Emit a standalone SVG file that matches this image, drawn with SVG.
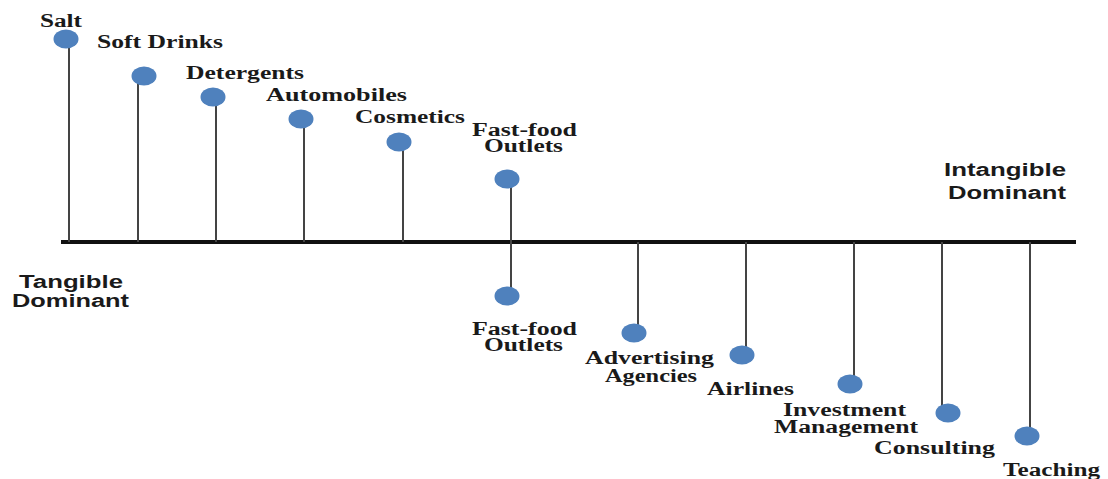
<svg xmlns="http://www.w3.org/2000/svg" width="1108" height="479" viewBox="0 0 1108 479">
<style>
.lbl{font-family:"Liberation Serif","Times New Roman",serif;font-weight:bold;font-size:18px;fill:#1a1a1a}
.end{font-family:"Liberation Sans",Arial,sans-serif;font-weight:bold;font-size:18px;fill:#1a1a1a}
.stem{stroke:#444;stroke-width:2;fill:none}
.axis{stroke:#111;stroke-width:4;fill:none}
.dot{fill:#4f81bd}
</style>
<rect width="1108" height="479" fill="#fff"/>
<g id="connectors">
<line class="axis" x1="61" y1="242" x2="1076" y2="242"/>
<line class="stem" x1="69" y1="40" x2="69" y2="242"/>
<line class="stem" x1="138" y1="77" x2="138" y2="242"/>
<line class="stem" x1="216" y1="98" x2="216" y2="242"/>
<line class="stem" x1="304" y1="120" x2="304" y2="242"/>
<line class="stem" x1="403" y1="143" x2="403" y2="242"/>
<line class="stem" x1="511" y1="180" x2="511" y2="242"/>
<line class="stem" x1="511" y1="242" x2="511" y2="295"/>
<line class="stem" x1="638" y1="242" x2="638" y2="332"/>
<line class="stem" x1="746" y1="242" x2="746" y2="354"/>
<line class="stem" x1="854" y1="242" x2="854" y2="383"/>
<line class="stem" x1="942" y1="242" x2="942" y2="412"/>
<line class="stem" x1="1030" y1="242" x2="1030" y2="435"/>
</g>
<g id="salt"><ellipse class="dot" cx="66" cy="39" rx="12.5" ry="9.5"/><text class="lbl" x="40" y="27" textLength="42" lengthAdjust="spacingAndGlyphs">Salt</text></g>
<g id="soft-drinks"><ellipse class="dot" cx="144" cy="76" rx="12.5" ry="9.5"/><text class="lbl" x="97" y="48" textLength="126" lengthAdjust="spacingAndGlyphs">Soft Drinks</text></g>
<g id="detergents"><ellipse class="dot" cx="213" cy="97" rx="12.5" ry="9.5"/><text class="lbl" x="186" y="79" textLength="118" lengthAdjust="spacingAndGlyphs">Detergents</text></g>
<g id="automobiles"><ellipse class="dot" cx="301" cy="119" rx="12.5" ry="9.5"/><text class="lbl" x="266" y="101" textLength="141" lengthAdjust="spacingAndGlyphs">Automobiles</text></g>
<g id="cosmetics"><ellipse class="dot" cx="399" cy="142" rx="12.5" ry="9.5"/><text class="lbl" x="355" y="123" textLength="110" lengthAdjust="spacingAndGlyphs">Cosmetics</text></g>
<g id="fastfood-top"><ellipse class="dot" cx="507" cy="179" rx="12.5" ry="9.5"/><text class="lbl" x="472" y="136" textLength="105" lengthAdjust="spacingAndGlyphs">Fast-food</text><text class="lbl" x="484" y="152" textLength="79" lengthAdjust="spacingAndGlyphs">Outlets</text></g>
<g id="fastfood-bottom"><ellipse class="dot" cx="507" cy="296" rx="12.5" ry="9.5"/><text class="lbl" x="472" y="335" textLength="105" lengthAdjust="spacingAndGlyphs">Fast-food</text><text class="lbl" x="484" y="351" textLength="79" lengthAdjust="spacingAndGlyphs">Outlets</text></g>
<g id="advertising"><ellipse class="dot" cx="634" cy="333" rx="12.5" ry="9.5"/><text class="lbl" x="585" y="364" textLength="129" lengthAdjust="spacingAndGlyphs">Advertising</text><text class="lbl" x="605" y="382" textLength="92" lengthAdjust="spacingAndGlyphs">Agencies</text></g>
<g id="airlines"><ellipse class="dot" cx="742" cy="355" rx="12.5" ry="9.5"/><text class="lbl" x="707" y="395" textLength="87" lengthAdjust="spacingAndGlyphs">Airlines</text></g>
<g id="investment"><ellipse class="dot" cx="850" cy="384" rx="12.5" ry="9.5"/><text class="lbl" x="783" y="416" textLength="123" lengthAdjust="spacingAndGlyphs">Investment</text><text class="lbl" x="774" y="433" textLength="144" lengthAdjust="spacingAndGlyphs">Management</text></g>
<g id="consulting"><ellipse class="dot" cx="948" cy="413" rx="12.5" ry="9.5"/><text class="lbl" x="874" y="454" textLength="121" lengthAdjust="spacingAndGlyphs">Consulting</text></g>
<g id="teaching"><ellipse class="dot" cx="1027" cy="436" rx="12.5" ry="9.5"/><text class="lbl" x="1003" y="476" textLength="97" lengthAdjust="spacingAndGlyphs">Teaching</text></g>
<g id="tangible"><text class="end" x="19" y="288" textLength="104" lengthAdjust="spacingAndGlyphs">Tangible</text><text class="end" x="12" y="307" textLength="117" lengthAdjust="spacingAndGlyphs">Dominant</text></g>
<g id="intangible"><text class="end" x="944" y="176" textLength="122" lengthAdjust="spacingAndGlyphs">Intangible</text><text class="end" x="948" y="199" textLength="118" lengthAdjust="spacingAndGlyphs">Dominant</text></g>
</svg>
